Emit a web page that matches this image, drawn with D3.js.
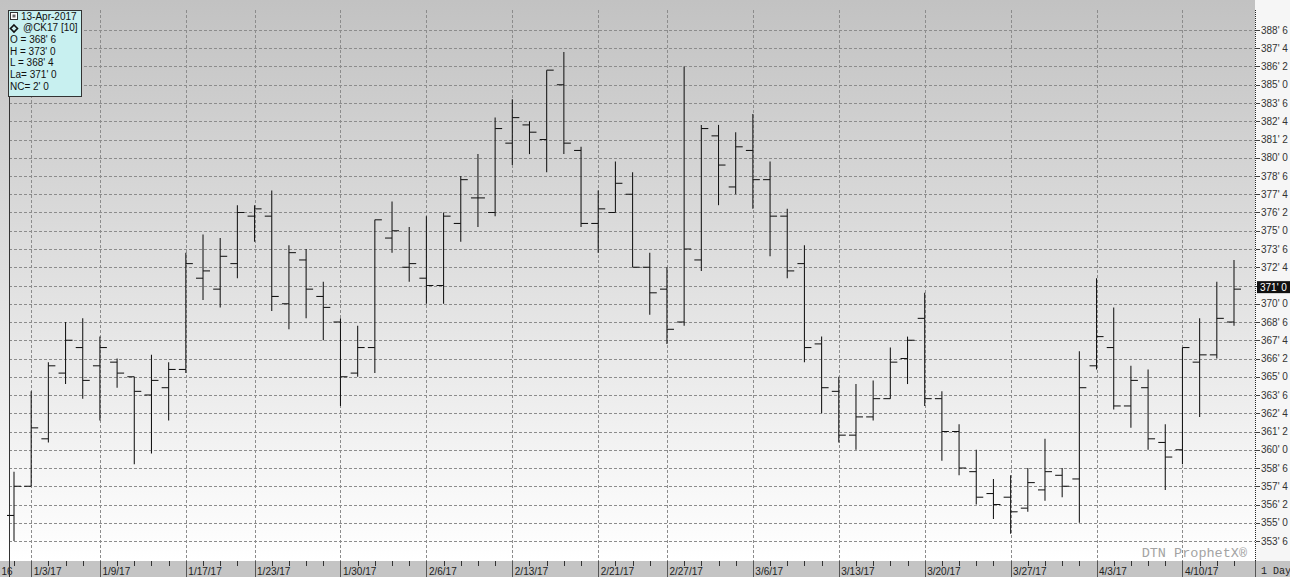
<!DOCTYPE html>
<html><head><meta charset="utf-8">
<script src="https://cdn.jsdelivr.net/npm/d3@7"></script>
<style>html,body{margin:0;padding:0;background:#fff;overflow:hidden;}svg{display:block;}</style>
</head><body>
<script>
const dates = ["12/30/16","1/3/17","1/4/17","1/5/17","1/6/17","1/9/17","1/10/17","1/11/17","1/12/17","1/13/17",
"1/17/17","1/18/17","1/19/17","1/20/17","1/23/17","1/24/17","1/25/17","1/26/17","1/27/17","1/30/17",
"1/31/17","2/1/17","2/2/17","2/3/17","2/6/17","2/7/17","2/8/17","2/9/17","2/10/17","2/13/17",
"2/14/17","2/15/17","2/16/17","2/17/17","2/21/17","2/22/17","2/23/17","2/24/17","2/27/17","2/28/17",
"3/1/17","3/2/17","3/3/17","3/6/17","3/7/17","3/8/17","3/9/17","3/10/17","3/13/17","3/14/17",
"3/15/17","3/16/17","3/17/17","3/20/17","3/21/17","3/22/17","3/23/17","3/24/17","3/27/17","3/28/17",
"3/29/17","3/30/17","3/31/17","4/3/17","4/4/17","4/5/17","4/6/17","4/7/17","4/10/17","4/11/17",
"4/12/17","4/13/17"];
const open = [355.5,357.5,360.75,365.25,367,365.75,366,365,363.75,364.25,
365.5,371.75,371,372.75,376,376,370,373,370.5,368.75,
365.25,367,374.5,372.5,371.75,371.25,375.5,377.25,376.25,381,
382.25,381.25,385,380.5,375.5,376.25,377.5,372.5,371,368.75,
373,381.5,378,380.5,378.5,376,372.75,367.25,364,361,
362.25,363.5,366.25,369,363.5,361.25,358.5,357,356.75,356,
357.25,358.25,358,365.75,367,363,364.25,360.5,360,366,
366.5,368.75];
const high = [358.5,364,366,368.75,369,367.75,366.25,365,366.5,366,
373.5,374.75,374.5,376.75,376.75,377.75,374,373.75,371.5,369,
368.5,375.75,377,375.25,376,376.25,378.75,380.25,382.75,384,
382.5,386,387.25,380.75,377.75,379.75,379,373.5,372.5,386.25,
382.25,382.25,381.75,383,379.75,376.5,374,367.75,365,364.5,
364.75,367,367.75,370.75,364,361.75,360,358,358.25,358.75,
360.75,358.75,366.75,371.75,369.75,365.75,365.5,361.75,367,369,
371.5,373];
const low = [353.75,357.5,360.5,364.5,363.5,362,364.25,359,359.75,362,
365.25,370.25,369.75,371.75,374.25,369.5,368.25,369,367.5,363,
365,365.25,373.5,371.5,370,370,374.25,375.25,376,379.5,
380.25,379,380.25,375.25,373.5,376.25,372.5,369.25,367.25,368.5,
372.25,376.75,377.5,376.5,373.25,371.75,366,362.5,360.5,360,
362,363.5,364.5,363,359.25,358.25,356.25,355.25,354.25,355.75,
356.5,356.75,355,365.5,362.75,361.5,360,357.25,359,362.25,
366.25,368.5];
const close = [357.5,361.5,365.75,367.5,364.75,367,365.25,364,364.75,365.5,
372.75,372.25,373.25,376.25,376.5,370.5,373.5,371,369.75,365,
367,375.75,375,372.75,371.25,376,378.5,377.25,382,382.75,
381.75,386,381,375.5,376.5,378.25,372.5,370.75,368.25,373.75,
382,379.5,380.75,378.5,376,372.25,367,364.25,361,362.25,
363.5,366,367.5,363.5,361.25,358.75,356.75,356.25,355.75,357.75,
358.5,357.5,364.25,367.75,363,364.75,360.75,359.5,367,366.5,
369,371];
const xLabelDates = ["1/3/17","1/9/17","1/17/17","1/23/17","1/30/17","2/6/17","2/13/17","2/21/17","2/27/17","3/6/17","3/13/17","3/20/17","3/27/17","4/3/17","4/10/17"];
const firstLabelTail = "16";
const yTickValues = [353.75,355,356.25,357.5,358.75,360,361.25,362.5,363.75,365,366.25,367.5,368.75,370,371.25,372.5,373.75,375,376.25,377.5,378.75,380,381.25,382.5,383.75,385,386.25,387.5,388.75];
const legendLines = ["13-Apr-2017","@CK17 [10]","O = 368' 6","H = 373' 0","L = 368' 4","La= 371' 0","NC= 2' 0"];
const lastPrice = 371;

const W = 1290, H = 577;
const plotL = 9, plotR = 1255, plotT = 10, plotB = 561;
const fmt = v => { const i = Math.floor(v); return `${i}' ${Math.round((v - i) * 8)}`; };

const svg = d3.select("body").append("svg").attr("width", W).attr("height", H)
  .style("font-family", "Arial, 'Liberation Sans', sans-serif");

const defs = svg.append("defs");
const g = defs.append("linearGradient").attr("id","bg").attr("x1",0).attr("y1",0).attr("x2",0).attr("y2",1);
g.append("stop").attr("offset","0%").attr("stop-color","#c2c2c2");
g.append("stop").attr("offset","100%").attr("stop-color","#ffffff");

const x = d3.scalePoint().domain(dates).range([14, 1234]);
const y = d3.scaleLinear().domain([353.75, 388.75]).range([541, 30]);

// background
svg.append("rect").attr("x",0).attr("y",0).attr("width",plotR).attr("height",plotB).attr("fill","url(#bg)");
svg.append("rect").attr("x",plotR).attr("y",0).attr("width",W-plotR).attr("height",plotB).attr("fill","#f6f6f6");

// horizontal gridlines
svg.append("g").selectAll("line").data(yTickValues).join("line")
  .attr("x1", plotL).attr("x2", plotR)
  .attr("y1", d => Math.round(y(d)) + 0.5).attr("y2", d => Math.round(y(d)) + 0.5)
  .attr("stroke", "#8c8c8c").attr("stroke-dasharray", "3,2").attr("stroke-width", 1);

// vertical gridlines
svg.append("g").selectAll("line").data(xLabelDates).join("line")
  .attr("x1", d => Math.round(x(d)) + 0.5).attr("x2", d => Math.round(x(d)) + 0.5)
  .attr("y1", plotT).attr("y2", plotB)
  .attr("stroke", "#8c8c8c").attr("stroke-dasharray", "3,2").attr("stroke-width", 1);

// bottom band
svg.append("rect").attr("x",0).attr("y",plotB).attr("width",W).attr("height",H-plotB).attr("fill","#c4c4c4");
const band = svg.append("g");
band.selectAll("line.minor").data(dates).join("line").attr("class","minor")
  .attr("x1", d => Math.round(x(d)) + 0.5).attr("x2", d => Math.round(x(d)) + 0.5)
  .attr("y1", plotB).attr("y2", plotB + 5).attr("stroke", "#333");
band.selectAll("line.major").data(xLabelDates).join("line").attr("class","major")
  .attr("x1", d => Math.round(x(d)) + 0.5).attr("x2", d => Math.round(x(d)) + 0.5)
  .attr("y1", plotB).attr("y2", H).attr("stroke", "#555");
band.selectAll("text").data(xLabelDates).join("text")
  .attr("x", d => x(d) + 2.5).attr("y", 574.5)
  .attr("font-size", 10).attr("fill", "#222").text(d => d);
band.append("text").attr("x", 1.5).attr("y", 574.5)
  .attr("font-size", 10).attr("fill", "#222").text(firstLabelTail);
band.append("line").attr("x1", plotR + 0.5).attr("x2", plotR + 0.5).attr("y1", plotB).attr("y2", H).attr("stroke", "#555");
band.append("text").attr("x", 1261).attr("y", 573.5)
  .attr("font-family", "'Liberation Mono', 'DejaVu Sans Mono', monospace")
  .attr("font-size", 10).attr("fill", "#222").text("1 Day");

// left border
svg.append("line").attr("x1", plotL + 0.5).attr("x2", plotL + 0.5).attr("y1", plotT).attr("y2", H).attr("stroke", "#333");

// right axis
svg.append("line").attr("x1", plotR + 0.5).attr("x2", plotR + 0.5).attr("y1", plotT).attr("y2", plotB)
  .attr("stroke", "#222").attr("stroke-dasharray", "1,1");
const boxC = y(lastPrice) - 2;
const visibleTicks = yTickValues.filter(v => Math.abs(y(v) - boxC) > 9);
const ya = svg.append("g");
ya.selectAll("line").data(yTickValues).join("line")
  .attr("x1", plotR + 1).attr("x2", plotR + 5)
  .attr("y1", d => Math.round(y(d)) + 0.5).attr("y2", d => Math.round(y(d)) + 0.5)
  .attr("stroke", "#444");
ya.selectAll("text").data(visibleTicks).join("text")
  .attr("x", plotR + 6).attr("y", d => y(d) + 3.5)
  .attr("font-size", 10).attr("fill", "#333").text(d => fmt(d));

// last price highlight
svg.append("rect").attr("x", plotR + 2).attr("y", boxC - 6).attr("width", W - plotR - 2).attr("height", 12).attr("fill", "#111");
svg.append("text").attr("x", plotR + 5).attr("y", boxC + 3.5)
  .attr("font-size", 10).attr("fill", "#fff").text(fmt(lastPrice));

// watermark
svg.append("text").attr("x", 1247).attr("y", 557).attr("text-anchor","end")
  .attr("font-family", "'Liberation Mono', 'DejaVu Sans Mono', monospace")
  .attr("font-size", 13.5).attr("fill", "#a3a3a3").text("DTN ProphetX\u00AE");

// OHLC bars
const bars = svg.append("g").attr("stroke", "#151515").attr("stroke-width", 1.05);
const data = dates.map((d, i) => ({d, o: open[i], h: high[i], l: low[i], c: close[i]}));
bars.selectAll("line.hl").data(data).join("line").attr("class","hl")
  .attr("x1", d => x(d.d)).attr("x2", d => x(d.d))
  .attr("y1", d => y(d.h)).attr("y2", d => y(d.l));
bars.selectAll("line.o").data(data).join("line").attr("class","o")
  .attr("x1", d => x(d.d) - 7).attr("x2", d => x(d.d))
  .attr("y1", d => y(d.o)).attr("y2", d => y(d.o));
bars.selectAll("line.c").data(data).join("line").attr("class","c")
  .attr("x1", d => x(d.d)).attr("x2", d => x(d.d) + 7)
  .attr("y1", d => y(d.c)).attr("y2", d => y(d.c));

// legend box
const lg = svg.append("g");
lg.append("rect").attr("x", 8.5).attr("y", 10.5).attr("width", 73).attr("height", 86)
  .attr("fill", "#c8f0f0").attr("stroke", "#333");
lg.append("rect").attr("x", 10.5).attr("y", 12.5).attr("width", 7).attr("height", 7)
  .attr("fill", "#fff").attr("stroke", "#333");
lg.append("rect").attr("x", 12.5).attr("y", 14.5).attr("width", 3).attr("height", 3)
  .attr("fill", "#666");
lg.append("path").attr("d", "M14,25 L17.5,28.5 L14,32 L10.5,28.5 Z")
  .attr("fill", "none").attr("stroke", "#111").attr("stroke-width", 1.6);
lg.selectAll("text").data(legendLines).join("text")
  .attr("x", (d, i) => i === 0 ? 21 : (i === 1 ? 23 : 10))
  .attr("y", (d, i) => 19.5 + i * 11.7)
  .attr("font-size", 10).attr("fill", "#111").text(d => d);
</script>
</body></html>
